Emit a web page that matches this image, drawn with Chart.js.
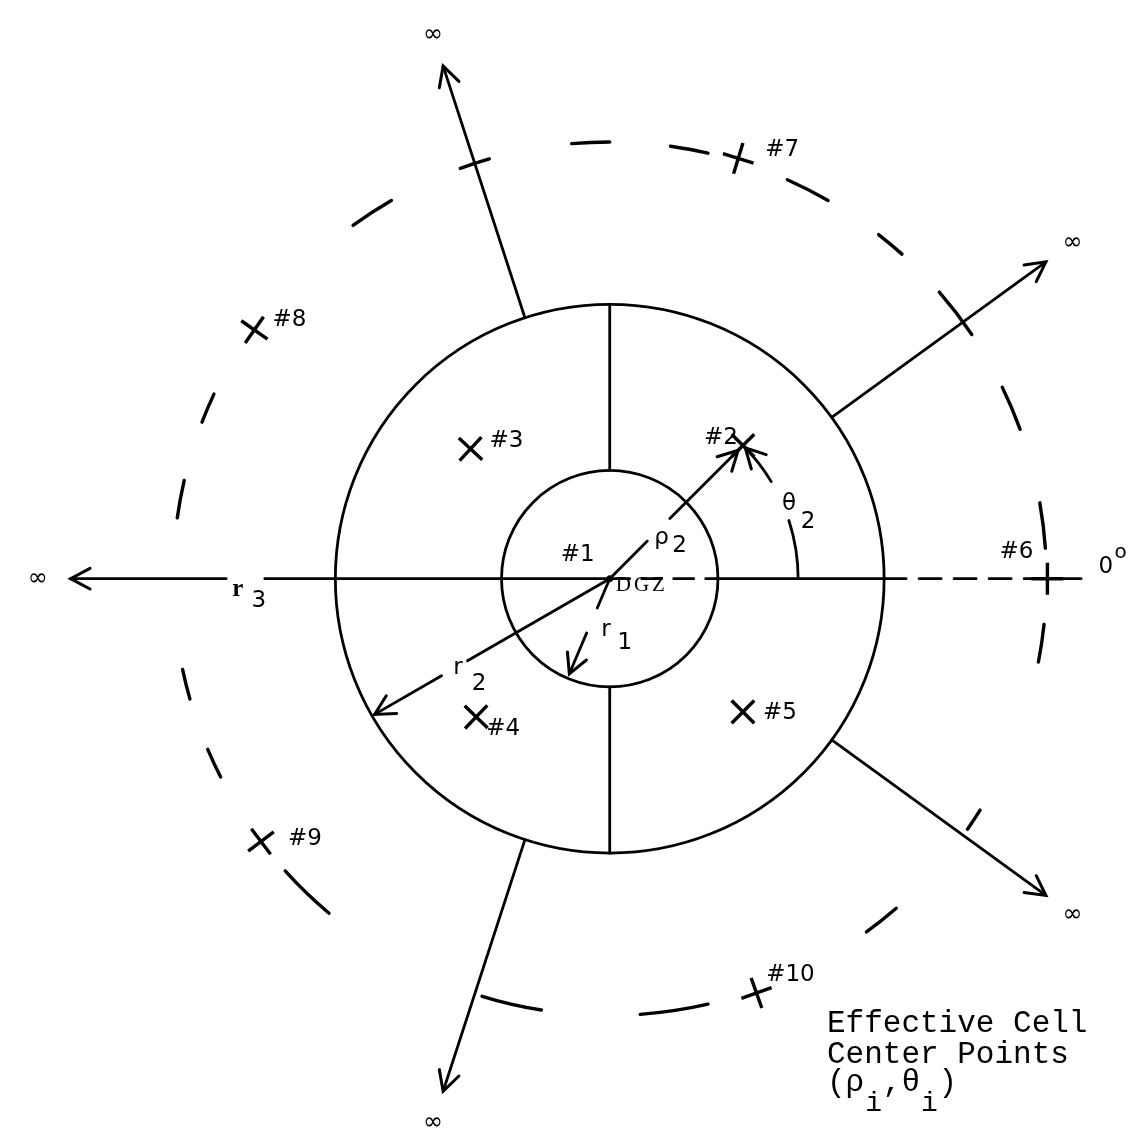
<!DOCTYPE html>
<html>
<head>
<meta charset="utf-8">
<title>Effective cell center points</title>
<script src="https://cdn.jsdelivr.net/npm/chart.js@4.4.1/dist/chart.umd.min.js"></script>
<style>
  html, body { margin: 0; padding: 0; background: #fff; }
  canvas { display: block; }
</style>
</head>
<body>
<canvas id="cellChart" width="1147" height="1139"></canvas>
<script>
// cell centre points (rho, theta), theta in degrees, 0 = east, counter-clockwise
const cellNames = ['#1', '#2', '#3', '#4', '#5', '#6', '#7', '#8', '#9', '#10'];
const cellRho = [0, 195, 197, 199, 195, 453, 455, 449, 452, 455];
const cellTheta = [0, 45, 137, 226, 315, 0, 73, 145, 217, 289.5];

// ring radii r1, r2 (solid) and r3 (dashed)
const ringRadii = [112, 284, 452];
// cell boundaries: between r1 and r2, and the rays from r2 out to infinity
const innerSpokes = [0, 90, 270];
const outerSpokes = [36, 108, 180, 252, 324];
const spokeEnd = 558;
const refLineEnd = 496;

// dashes of the hand drawn r3 circle, [from, to] in degrees
const ringDashes = [[90, 95], [77, 82], [60, 66], [48, 52], [34, 41], [20, 26], [4, 10], [-11, -6],
  [-35, -32], [-54, -49], [-86, -77], [-107, -99], [-138, -130], [-157, -153], [-168, -164],
  [167, 172], [155, 159], [120, 126], [106, 110]];

// the theta_2 arc (drawn at rho_2), split round its label
const thetaArc = [[0, 18], [31, 44]];

const ink = '#000';
const labelFont = '23px "DejaVu Sans"';

// where each cell label sits relative to its marker (px)
const labelOffset = [[-32, -24], [-22, -7], [36, -8], [27, 12], [37, 1], [-31, -27], [44, -8], [35, -10], [44, -2], [34, -18]];

function polar(r, deg) {
  const a = deg * Math.PI / 180;
  return { x: r * Math.cos(a), y: r * Math.sin(a) };
}

function lineSet(from, to, deg, dash) {
  return {
    data: [polar(from, deg), polar(to, deg)],
    showLine: true,
    pointRadius: 0,
    borderColor: ink,
    borderWidth: 2.8,
    borderDash: dash || [],
    borderCapStyle: 'round'
  };
}

const datasets = [];

// cell centres
datasets.push({
  data: cellRho.map((r, i) => polar(r, cellTheta[i])),
  pointStyle: ctx => ctx.dataIndex === 0 ? 'circle' : 'cross',
  pointRadius: ctx => ctx.dataIndex === 0 ? 3 : 16,
  pointRotation: ctx => -cellTheta[ctx.dataIndex],
  pointBorderWidth: ctx => ctx.dataIndex === 0 ? 1 : 3.4,
  pointBorderColor: ink,
  pointBackgroundColor: ink
});

// boundaries inside the r2 ring
innerSpokes.forEach(a => datasets.push(lineSet(ringRadii[0], ringRadii[1], a)));
// 0 deg reference line, dashed inside r1 and beyond r2
datasets.push(lineSet(0, ringRadii[0], 0, [20, 12]));
datasets.push(lineSet(ringRadii[1], refLineEnd, 0, [22, 13]));

// rays to infinity; the 180 deg one runs from DGZ and leaves room for r3
outerSpokes.forEach(a => {
  if (a === 180) {
    datasets.push(lineSet(0, 357, a));
    datasets.push(lineSet(397, spokeEnd, a));
  } else {
    datasets.push(lineSet(ringRadii[1], spokeEnd, a));
  }
});

// rho_2, r2 and r1 pointers with gaps for their labels
datasets.push(lineSet(0, 55, cellTheta[1]));
datasets.push(lineSet(88, 188, cellTheta[1]));
datasets.push(lineSet(0, 170, 210));
datasets.push(lineSet(201, ringRadii[1] - 3, 210));
datasets.push(lineSet(0, 33, 247));
datasets.push(lineSet(61, ringRadii[0] - 5, 247));

const diagram = {
  id: 'diagram',
  afterDatasetsDraw(chart) {
    const { ctx, scales: { x, y } } = chart;
    const pt = (r, deg) => {
      const p = polar(r, deg);
      return [x.getPixelForValue(p.x), y.getPixelForValue(p.y)];
    };
    const cx = x.getPixelForValue(0);
    const cy = y.getPixelForValue(0);
    const k = x.getPixelForValue(1) - cx;
    const rad = d => d * Math.PI / 180;

    ctx.save();
    ctx.strokeStyle = ink;
    ctx.fillStyle = ink;
    ctx.lineCap = 'round';

    // r1 and r2
    ctx.lineWidth = 2.8;
    ringRadii.slice(0, 2).forEach(r => {
      ctx.beginPath();
      ctx.arc(cx, cy, r * k, 0, 2 * Math.PI);
      ctx.stroke();
    });

    // r3, dashed
    ctx.lineWidth = 3.4;
    ringDashes.forEach(([a, b]) => {
      ctx.beginPath();
      ctx.arc(cx, cy, ringRadii[2] * k, -rad(b), -rad(a));
      ctx.stroke();
    });

    // theta_2 arc
    ctx.lineWidth = 2.8;
    thetaArc.forEach(([a, b]) => {
      ctx.beginPath();
      ctx.arc(cx, cy, cellRho[1] * k, -rad(b), -rad(a));
      ctx.stroke();
    });

    function arrowHead(tip, dir) {
      const len = 22, spread = rad(28);
      ctx.beginPath();
      ctx.moveTo(tip[0] - len * Math.cos(dir - spread), tip[1] - len * Math.sin(dir - spread));
      ctx.lineTo(tip[0], tip[1]);
      ctx.lineTo(tip[0] - len * Math.cos(dir + spread), tip[1] - len * Math.sin(dir + spread));
      ctx.stroke();
    }
    ctx.lineWidth = 3;
    outerSpokes.forEach(a => arrowHead(pt(spokeEnd, a), -rad(a)));
    arrowHead(pt(188, cellTheta[1]), -rad(cellTheta[1]));
    arrowHead(pt(ringRadii[1] - 3, 210), -rad(210));
    arrowHead(pt(ringRadii[0] - 5, 247), -rad(247));
    arrowHead(pt(cellRho[1], thetaArc[1][1]), -rad(thetaArc[1][1] + 90));

    // text
    ctx.textAlign = 'center';
    ctx.textBaseline = 'middle';

    ctx.font = '24px "DejaVu Sans"';
    outerSpokes.forEach(a => {
      const p = pt(592, a);
      ctx.fillText('\u221e', p[0], p[1]);
    });

    ctx.font = labelFont;
    cellNames.forEach((name, i) => {
      const p = pt(cellRho[i], cellTheta[i]);
      ctx.fillText(name, p[0] + labelOffset[i][0], p[1] + labelOffset[i][1]);
    });

    // symbol labels with subscripts: [main, sub, rho, theta, subDx, subDy]
    const symbols = [
      ['\u03c1', '2', 68, 38, 18, 8],
      ['r', '2', 182, 210.4, 21, 16],
      ['r', '1', 53, 265.7, 19, 13],
      ['r', '3', 385, 181.6, 21, 12],
      ['\u03b8', '2', 201, 22.5, 19, 18]
    ];
    symbols.forEach(([main, sub, r, a, dx, dy]) => {
      const p = pt(r, a);
      ctx.font = main === 'r' && sub === '3' ? 'bold 25px "Liberation Serif"' : labelFont;
      ctx.fillText(main, p[0], p[1]);
      ctx.font = labelFont;
      ctx.fillText(sub, p[0] + dx, p[1] + dy);
    });

    // DGZ
    ctx.textAlign = 'left';
    ctx.font = '21px "Liberation Serif"';
    ctx.letterSpacing = '3px';
    ctx.fillText('DGZ', cx + 6, cy + 7);
    ctx.letterSpacing = '0px';

    // 0 degrees
    const z = pt(refLineEnd + 10, 0);
    ctx.font = labelFont;
    ctx.fillText('0', z[0], z[1] - 12);
    ctx.font = '20px "DejaVu Sans"';
    ctx.fillText('o', z[0] + 16, z[1] - 26);

    // note
    ctx.font = '31px "Liberation Mono"';
    ctx.textBaseline = 'alphabetic';
    const nx = 827;
    ctx.fillText('Effective Cell', nx, 1032);
    ctx.fillText('Center Points', nx, 1063);
    ctx.fillText('(\u03c1 ,\u03b8 )', nx, 1091);
    const cw = ctx.measureText('M').width;
    ctx.font = '28px "Liberation Mono"';
    ctx.fillText('i', nx + 2 * cw + 1, 1111);
    ctx.fillText('i', nx + 5 * cw + 1, 1111);

    ctx.restore();
  }
};

new Chart(document.getElementById('cellChart').getContext('2d'), {
  type: 'scatter',
  data: { datasets: datasets },
  options: {
    responsive: false,
    animation: false,
    devicePixelRatio: 1,
    layout: { padding: 0 },
    plugins: { legend: { display: false }, tooltip: { enabled: false } },
    scales: {
      x: { type: 'linear', display: false, min: -611, max: 536 },
      y: { type: 'linear', display: false, min: -560, max: 579 }
    }
  },
  plugins: [diagram]
});
</script>
</body>
</html>
